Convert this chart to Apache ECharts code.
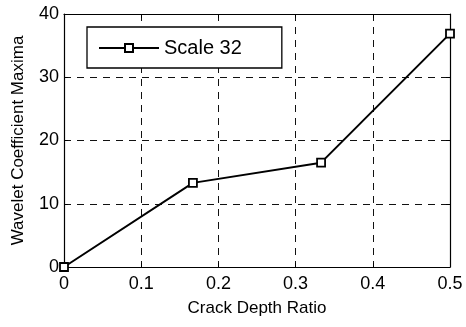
<!DOCTYPE html>
<html>
<head>
<meta charset="utf-8">
<script src="https://cdn.jsdelivr.net/npm/echarts@6/dist/echarts.min.js"></script>
<style>
  html, body { margin: 0; padding: 0; background: #fff; }
  #chart { width: 466px; height: 327px; }
</style>
</head>
<body>
<div id="chart"></div>
<script>
// Crack depth ratio vs. wavelet coefficient maxima at scale 32
const depthRatios = [0, 0.167, 0.333, 0.5];
const maximaScale32 = [0, 13.3, 16.5, 36.9];
const xTicks = [0, 0.1, 0.2, 0.3, 0.4, 0.5];
const yTicks = [0, 10, 20, 30, 40];
const seriesName = 'Scale 32';

const FONT = '"Liberation Sans", Arial, Helvetica, sans-serif';

const chart = echarts.init(document.getElementById('chart'), null, { renderer: 'canvas' });

const xBase = {
  type: 'value',
  min: xTicks[0],
  max: xTicks[xTicks.length - 1],
  interval: 0.1,
  axisLine: { show: true, onZero: false, lineStyle: { color: '#000', width: 1.2 } },
  axisTick: { show: true, inside: true, length: 4, lineStyle: { color: '#000' } }
};
const yBase = {
  type: 'value',
  min: yTicks[0],
  max: yTicks[yTicks.length - 1],
  interval: 10,
  axisLine: { show: true, onZero: false, lineStyle: { color: '#000', width: 1.2 } },
  axisTick: { show: true, inside: true, length: 4, lineStyle: { color: '#000' } }
};
const gridDash = { type: [7, 6], color: '#111', width: 1 };

chart.setOption({
  animation: false,
  backgroundColor: '#fff',
  textStyle: { fontFamily: FONT },
  grid: { left: 64, top: 14, right: 16, bottom: 60, show: false },
  legend: {
    data: [seriesName],
    left: 87,
    top: 27,
    orient: 'vertical',
    backgroundColor: '#fff',
    borderColor: '#000',
    borderWidth: 1.3,
    borderRadius: 0,
    padding: [11, 40, 10, 11],
    itemWidth: 60,
    itemHeight: 10,
    textStyle: { fontFamily: FONT, fontSize: 20, color: '#000' }
  },
  xAxis: [
    Object.assign({}, xBase, {
      position: 'bottom',
      name: 'Crack Depth Ratio',
      nameLocation: 'middle',
      nameGap: 33,
      nameTextStyle: { fontFamily: FONT, fontSize: 17, color: '#000' },
      axisLabel: {
        color: '#000', fontSize: 18, fontFamily: FONT, margin: 8,
        formatter: v => String(Math.round(v * 10) / 10)
      },
      splitLine: { show: true, lineStyle: gridDash }
    }),
    Object.assign({}, xBase, {
      position: 'top',
      axisLabel: { show: false },
      splitLine: { show: false }
    })
  ],
  yAxis: [
    Object.assign({}, yBase, {
      position: 'left',
      name: 'Wavelet Coefficient Maxima',
      nameLocation: 'middle',
      nameGap: 37,
      nameTextStyle: { fontFamily: FONT, fontSize: 17, color: '#000' },
      axisLabel: { color: '#000', fontSize: 18, fontFamily: FONT, margin: 5 },
      splitLine: { show: true, lineStyle: gridDash }
    }),
    Object.assign({}, yBase, {
      position: 'right',
      axisLabel: { show: false },
      splitLine: { show: false }
    })
  ],
  series: [{
    name: seriesName,
    type: 'line',
    xAxisIndex: 0,
    yAxisIndex: 0,
    data: depthRatios.map((x, i) => [x, maximaScale32[i]]),
    symbol: 'rect',
    symbolSize: 8,
    showAllSymbol: true,
    lineStyle: { color: '#000', width: 2 },
    itemStyle: { color: '#fff', borderColor: '#000', borderWidth: 1.8 },
    emphasis: { disabled: true },
    z: 5
  }]
});
</script>
</body>
</html>
